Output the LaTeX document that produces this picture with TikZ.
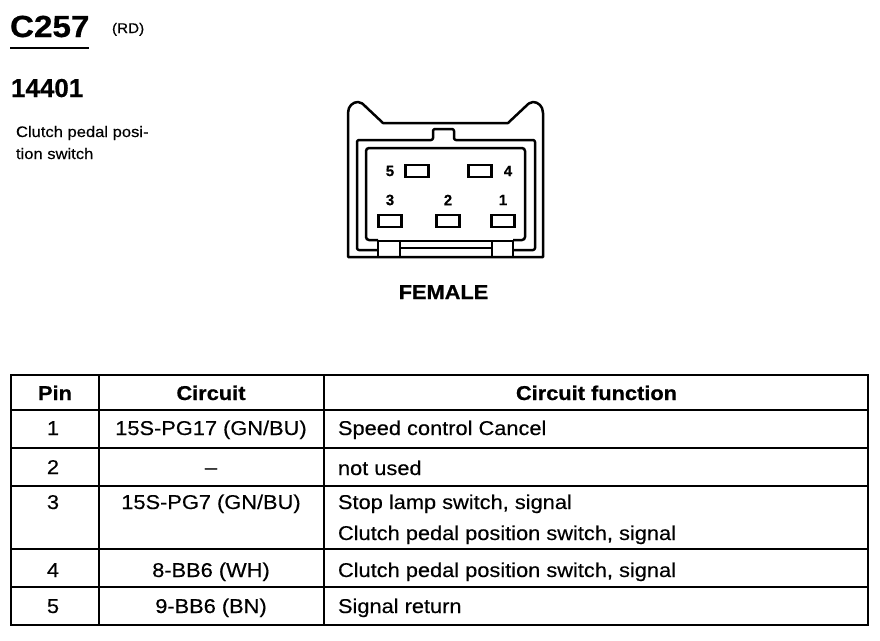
\documentclass[tikz,border=0pt]{standalone}
\usepackage{fontspec}
\setmainfont{Liberation Sans}[FakeStretch=1.09,FakeBold=0.35,BoldFont={Liberation Sans Bold},BoldFeatures={FakeStretch=1.09,FakeBold=0.6}]
\newfontfamily\numfont{Liberation Sans Bold}[FakeBold=0.4]
\tikzset{
  every node/.style={inner sep=0pt,outer sep=0pt,text=black},
  heavy/.style={line width=2.5pt,line join=miter,black},
  conn/.style={line width=2.5pt,line join=round,black},
  pinbox/.style={draw,line width=2.5pt,minimum width=23pt,minimum height=12pt},
  pinnum/.style={font=\fontsize{15}{15}\numfont},
  body/.style={font=\fontsize{20}{20}\selectfont},
  head/.style={font=\fontsize{20}{20}\selectfont\bfseries},
  func/.style={body,anchor=base west},
  mid/.style={anchor=base}
}
\begin{document}
\begin{tikzpicture}[x=1pt,y=-1pt]
\useasboundingbox (0,0) rectangle (880,640);
\node[anchor=base west,font=\fontsize{30.5}{30.5}\selectfont\bfseries] (title) at (10,37) {C257};
\draw[line width=1.6pt] (10,48) -- (89,48);
\node[anchor=base west,font=\fontsize{14}{14}\selectfont] (rd) at (112,33) {(RD)};
\node[anchor=base west,font=\fontsize{26}{26}\numfont] (num) at (11,97) {14401};
\node[anchor=base west,font=\fontsize{15.2}{15.2}\selectfont] (d1) at (16,137) {Clutch pedal posi-};
\node[anchor=base west,font=\fontsize{15.2}{15.2}\selectfont] (d2) at (16,159) {tion switch};
% connector
\draw[conn] (348,257) -- (348,113) .. controls (348,106) and (353,102) .. (358,102)
  .. controls (361,102) and (363,104) .. (366,107) -- (383,123) -- (508,123) -- (525,107)
  .. controls (528,104) and (530,102) .. (533,102) .. controls (538,102) and (543,106) .. (543,113)
  -- (543,257) -- cycle;
\draw[conn,rounded corners=2pt] (378,250) -- (357,250) -- (357,140) -- (433,140) -- (433,129) -- (454,129) -- (454,140) -- (535,140) -- (535,250) -- (513,250);
\draw[conn,rounded corners=3pt] (378,240) -- (366,240) -- (366,148) -- (525,148) -- (525,240) -- (513,240);
\draw[conn] (378,241) -- (513,241);
\draw[conn] (378,241) -- (378,257) (400,241) -- (400,257) (492,241) -- (492,257) (513,241) -- (513,257);
\draw[conn] (400,248) -- (492,248);
\node[pinbox] (p5) at (417,171) {};
\node[pinbox] (p4) at (480,171) {};
\node[pinbox] (p3) at (390,221) {};
\node[pinbox] (p2) at (448,221) {};
\node[pinbox] (p1) at (503,221) {};
\node[pinnum] (n5) at (390,171) {5};
\node[pinnum] (n4) at (508,171) {4};
\node[pinnum] (n3) at (390,200) {3};
\node[pinnum] (n2) at (448,200) {2};
\node[pinnum] (n1) at (503,200) {1};
\node[anchor=base,font=\fontsize{20}{20}\selectfont\bfseries] (fem) at (443.5,299) {FEMALE};
% table
\draw[heavy] (11,375) rectangle (868,625);
\foreach \y in {410,448,486,549,587} \draw[heavy] (11,\y) -- (868,\y);
\draw[heavy] (99,375) -- (99,625) (324,375) -- (324,625);
\node[head,mid] (hp) at (55,400) {Pin};
\node[head,mid] (hc) at (211,400) {Circuit};
\node[head,mid] (hf) at (596.5,400) {Circuit function};
\node[body,mid] (a1) at (53,435) {1};
\node[body,mid] (b1) at (211,435) {15S-PG17 (GN/BU)};
\node[func] (c1) at (338,435) {Speed control Cancel};
\node[body,mid] (a2) at (53,474) {2};
\node[body,mid] (b2) at (211,474) {–};
\node[func] (c2) at (338,475) {not used};
\node[body,mid] (a3) at (53,509) {3};
\node[body,mid] (b3) at (211,509) {15S-PG7 (GN/BU)};
\node[func] (c3) at (338,509) {Stop lamp switch, signal};
\node[func] (c3b) at (338,540) {Clutch pedal position switch, signal};
\node[body,mid] (a4) at (53,577) {4};
\node[body,mid] (b4) at (211,577) {8-BB6 (WH)};
\node[func] (c4) at (338,577) {Clutch pedal position switch, signal};
\node[body,mid] (a5) at (53,613) {5};
\node[body,mid] (b5) at (211,613) {9-BB6 (BN)};
\node[func] (c5) at (338,613) {Signal return};
\end{tikzpicture}
\end{document}
